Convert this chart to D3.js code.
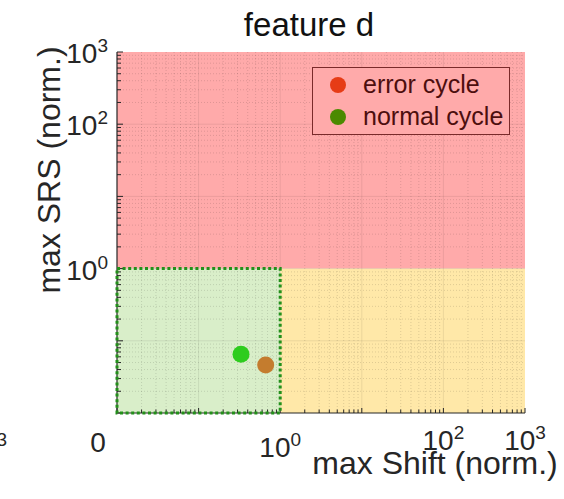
<!DOCTYPE html>
<html><head><meta charset="utf-8">
<script src="https://cdn.jsdelivr.net/npm/d3@7"></script>
<style>
html,body{margin:0;padding:0;background:#fff;}
svg{display:block;font-family:"Liberation Sans",Arial,Helvetica,sans-serif;}
</style></head>
<body>
<svg id="chart" width="564" height="499"></svg>
<script>
// ---- data ----
const seriesNames = ["error cycle", "normal cycle"];
const seriesX = [0.664, 0.331];
const seriesY = [0.0462, 0.065];
const pointColors = ["#c47c2e", "#2ecc1e"];
const legendColors = ["#e63c16", "#4b8a00"];
const axisDomain = [1e-2, 1e3];
const xThreshold = 1, yThreshold = 1;
const xTickValues = [1, 100, 1000];
const xTickExps = ["0", "2", "3"];
const yTickValues = [1, 100, 1000];
const yTickExps = ["0", "2", "3"];
const extraXValues = [0.00585, 0.000213];
const extraXBases = ["0", "10"];
const extraXExps = [null, "\u22123"];
const titleText = "feature d";
const xLabelText = "max Shift (norm.)";
const yLabelText = "max SRS (norm.)";

// ---- layout ----
const svg = d3.select("#chart");
const L = 117, R = 525, T = 52, B = 413;
const x = d3.scaleLog().domain(axisDomain).range([L, R]);
const y = d3.scaleLog().domain(axisDomain).range([B, T]);
const xTickBaselines = [457, 450, 450];
const extraBaselines = [452, 457];

// regions
const regions = [
  {x0: axisDomain[0], x1: axisDomain[1], y0: yThreshold, y1: axisDomain[1], fill: "#ffaaaa"},
  {x0: xThreshold, x1: axisDomain[1], y0: axisDomain[0], y1: yThreshold, fill: "#ffe8a8"},
  {x0: axisDomain[0], x1: xThreshold, y0: axisDomain[0], y1: yThreshold, fill: "#d9eec9"}
];
svg.append("g").selectAll("rect").data(regions).join("rect")
  .attr("x", d => x(d.x0)).attr("width", d => x(d.x1) - x(d.x0))
  .attr("y", d => y(d.y1)).attr("height", d => y(d.y0) - y(d.y1))
  .attr("fill", d => d.fill);

// grid
const majors = d3.range(-2, 4).map(k => Math.pow(10, k));
const minors = [];
for (let k = -2; k < 3; k++) for (let m = 2; m <= 9; m++) minors.push(m * Math.pow(10, k));
const grid = svg.append("g");
grid.selectAll(".mvx").data(minors).join("line").attr("class","mvx")
  .attr("x1", d => x(d)).attr("x2", d => x(d)).attr("y1", T).attr("y2", B)
  .attr("stroke", "#000").attr("stroke-opacity", 0.13).attr("stroke-dasharray", "1,2");
grid.selectAll(".mhy").data(minors).join("line").attr("class","mhy")
  .attr("y1", d => y(d)).attr("y2", d => y(d)).attr("x1", L).attr("x2", R)
  .attr("stroke", "#000").attr("stroke-opacity", 0.13).attr("stroke-dasharray", "1,2");
grid.selectAll(".Mvx").data(majors.slice(1, -1)).join("line").attr("class","Mvx")
  .attr("x1", d => x(d)).attr("x2", d => x(d)).attr("y1", T).attr("y2", B)
  .attr("stroke", "#000").attr("stroke-opacity", 0.08);
grid.selectAll(".Mhy").data(majors.slice(1, -1)).join("line").attr("class","Mhy")
  .attr("y1", d => y(d)).attr("y2", d => y(d)).attr("x1", L).attr("x2", R)
  .attr("stroke", "#000").attr("stroke-opacity", 0.08);

// axes lines + ticks
const ax = svg.append("g").attr("stroke", "#262626");
ax.append("line").attr("x1", L).attr("x2", L).attr("y1", T).attr("y2", B).attr("stroke-width", 1.2);
ax.append("line").attr("x1", L).attr("x2", R).attr("y1", B).attr("y2", B).attr("stroke-width", 1.2);
ax.selectAll(".ytk").data(majors.concat(minors)).join("line").attr("class","ytk")
  .attr("x1", L).attr("x2", d => L + (majors.includes(d) ? 6 : 4))
  .attr("y1", d => y(d)).attr("y2", d => y(d));
ax.selectAll(".xtk").data(majors.concat(minors)).join("line").attr("class","xtk")
  .attr("y1", B).attr("y2", d => B - (majors.includes(d) ? 5 : 3.5))
  .attr("x1", d => x(d)).attr("x2", d => x(d));

// green dotted border
svg.append("rect")
  .attr("x", x(axisDomain[0])).attr("width", x(xThreshold) - x(axisDomain[0]))
  .attr("y", y(yThreshold)).attr("height", y(axisDomain[0]) - y(yThreshold))
  .attr("fill", "none").attr("stroke", "#23901a").attr("stroke-width", 3)
  .attr("stroke-dasharray", "3,2.6");

// points
svg.append("g").selectAll("circle").data(seriesX.map((v, i) => ({x: v, y: seriesY[i], c: pointColors[i]})))
  .join("circle").attr("cx", d => x(d.x)).attr("cy", d => y(d.y)).attr("r", 8.5).attr("fill", d => d.c);

// tick labels
function supLabel(sel, base, exp) {
  sel.append("tspan").text(base);
  if (exp) sel.append("tspan").attr("font-size", 19).attr("dy", -11).text(exp);
}
const tl = svg.append("g").attr("fill", "#262626").attr("font-size", 28);
xTickValues.forEach((v, i) => {
  const t = tl.append("text").attr("x", x(v)).attr("y", xTickBaselines[i]).attr("text-anchor", "middle");
  supLabel(t, "10", xTickExps[i]);
});
extraXValues.forEach((v, i) => {
  const t = tl.append("text").attr("x", x(v)).attr("y", extraBaselines[i]).attr("text-anchor", "middle");
  supLabel(t, extraXBases[i], extraXExps[i]);
});
yTickValues.forEach((v, i) => {
  const t = tl.append("text").attr("x", L - 9).attr("y", y(v) + 11).attr("text-anchor", "end");
  supLabel(t, "10", yTickExps[i]);
});

// titles
svg.append("text").attr("x", 309).attr("y", 36).attr("text-anchor", "middle")
  .attr("font-size", 33).attr("fill", "#111").text(titleText);
svg.append("text").attr("x", 435).attr("y", 474).attr("text-anchor", "middle")
  .attr("font-size", 32).attr("fill", "#262626").text(xLabelText);
svg.append("text").attr("transform", "translate(60,170) rotate(-90)").attr("text-anchor", "middle")
  .attr("font-size", 32).attr("fill", "#262626").text(yLabelText);

// legend
const lg = svg.append("g");
lg.append("rect").attr("x", 312.5).attr("y", 67.5).attr("width", 197).attr("height", 67)
  .attr("fill", "#ffaaaa").attr("stroke", "#7a2a2a").attr("stroke-width", 1);
seriesNames.forEach((n, i) => {
  const cy = 85 + i * 32;
  lg.append("circle").attr("cx", 338).attr("cy", cy).attr("r", 8).attr("fill", legendColors[i]);
  lg.append("text").attr("x", 363).attr("y", cy + 8).attr("font-size", 25).attr("fill", "#4d0e0e").text(n);
});
</script>
</body></html>
